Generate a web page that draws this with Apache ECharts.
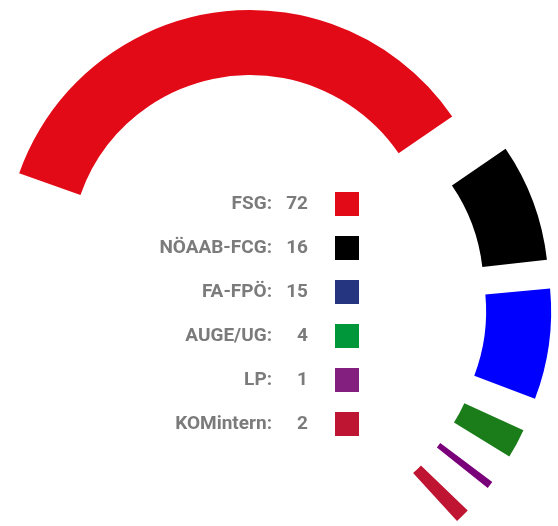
<!DOCTYPE html>
<html>
<head>
<meta charset="utf-8">
<script src="https://cdn.jsdelivr.net/npm/echarts@6/dist/echarts.min.js"></script>
<style>
html, body { margin: 0; padding: 0; background: #fff; }
#main { width: 558px; height: 526px; }
</style>
</head>
<body>
<div id="main"></div>
<script>
var parties = ['FSG', 'NÖAAB-FCG', 'FA-FPÖ', 'AUGE/UG', 'LP', 'KOMintern'];
var seats = [72, 16, 15, 4, 1, 2];
var arc_colors = ['#e30a17', '#000000', '#0000ff', '#1a7d1a', '#7a007a', '#bf1533'];
var legend_colors = ['#e30a17', '#000000', '#26357f', '#00973a', '#83207f', '#be1533'];
// blank space after each party (in seats)
var gap_seats = [0, 0.6, 2.11, 2.97, 3.1];

// pie data with transparent spacers between parties
var pie_data = [];
for (var i = 0; i < parties.length; i++) {
  if (i > 0 && gap_seats[i - 1] > 0) {
    pie_data.push({name: 'gap' + i, value: gap_seats[i - 1], itemStyle: {color: 'rgba(0,0,0,0)'}});
  }
  pie_data.push({name: parties[i], value: seats[i], selected: true, itemStyle: {color: arc_colors[i]}});
}
var legend_data = parties.map(function(name, idx) {
  return {name: name, itemStyle: {color: legend_colors[idx]}};
});

var txt = {fontSize: 19, fontWeight: 'bold', color: '#7b7b7b', fontFamily: 'Roboto', lineHeight: 24};

var option = {
  animation: false,
  legend: {
    orient: 'vertical',
    left: 158,
    top: 192,
    align: 'right',
    icon: 'rect',
    itemWidth: 24,
    itemHeight: 24,
    itemGap: 20,
    padding: 0,
    selectedMode: false,
    data: legend_data,
    formatter: function(name) {
      var idx = parties.indexOf(name);
      return '{n|' + name + ':}{v|' + seats[idx] + '}{s| }';
    },
    textStyle: {
      rich: {
        n: Object.assign({width: 114, align: 'right'}, txt),
        v: Object.assign({width: 36, align: 'right'}, txt),
        s: {width: 22, fontSize: 19, lineHeight: 24}
      }
    }
  },
  series: [{
    type: 'pie',
    center: [256.6, 304.6],
    radius: [180, 245],
    startAngle: 160.5,
    endAngle: -47.5,
    clockwise: true,
    selectedMode: 'multiple',
    selectedOffset: 50,
    label: {show: false},
    labelLine: {show: false},
    emphasis: {disabled: true},
    data: pie_data
  }]
};

var chart = echarts.init(document.getElementById('main'));
chart.setOption(option);
</script>
</body>
</html>
